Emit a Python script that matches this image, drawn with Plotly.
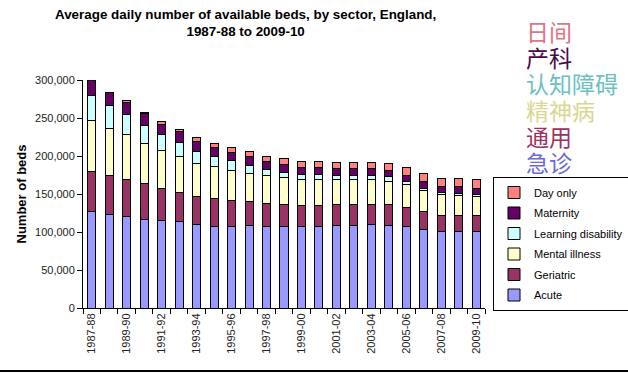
import plotly.graph_objects as go

categories = ["1987-88", "1988-89", "1989-90", "1990-91", "1991-92", "1992-93", "1993-94",
              "1994-95", "1995-96", "1996-97", "1997-98", "1998-99", "1999-00", "2000-01",
              "2001-02", "2002-03", "2003-04", "2004-05", "2005-06", "2006-07", "2007-08",
              "2008-09", "2009-10"]

acute = [126700, 123300, 120600, 116700, 115300, 113200, 110100, 107500, 107500, 108800,
         107500, 107500, 107500, 107500, 108800, 108800, 110100, 108800, 107500, 103500,
         100900, 100900, 100900]
geriatric = [52700, 51700, 48700, 46500, 41300, 39000, 36800, 36800, 34200, 31500,
             30200, 28900, 27600, 27600, 27600, 27600, 26300, 27600, 25000, 23700,
             21000, 21000, 21000]
mental_illness = [67600, 61400, 59200, 53500, 50900, 47800, 43400, 42100, 39400, 36900,
                  36900, 35500, 34200, 34200, 32900, 32900, 32900, 30300, 30200, 27600,
                  26800, 26300, 25000]
learning_disability = [32000, 29600, 26300, 23600, 21000, 18000, 15400, 12700, 12800, 10500,
                       7400, 6600, 6600, 6600, 4800, 4800, 4800, 5700, 4000, 2700,
                       3500, 2700, 2700]
maternity = [19700, 17800, 15200, 15700, 13200, 13600, 14000, 12700, 11000, 11000,
             11000, 10500, 9600, 9600, 10100, 10100, 10100, 8700, 8300, 8700,
             8300, 9600, 8300]
day_only = [0, 0, 2400, 1500, 3900, 3900, 4000, 4900, 6900, 6600,
            7000, 7900, 7900, 7900, 7500, 7500, 7500, 8400, 10100, 11000,
            10100, 10100, 11400]

series = [
    ("Acute", acute, "#9999FF"),
    ("Geriatric", geriatric, "#993366"),
    ("Mental illness", mental_illness, "#FFFFCC"),
    ("Learning disability", learning_disability, "#CCFFFF"),
    ("Maternity", maternity, "#660066"),
    ("Day only", day_only, "#FF8080"),
]

cn_labels = ["日间", "产科", "认知障碍", "精神病", "通用", "急诊"]
cn_colors = ["#E07585", "#4A0A4A", "#6CC0C0", "#D8D890", "#A0305E", "#6A6AD8"]

title_text = "<b>Average daily number of available beds, by sector, England,<br>1987-88 to 2009-10</b>"

x_idx = list(range(len(categories)))

L, R, T, B = 83, 143, 80, 65
W, H = 628, 373
PW, PH = W - L - R, H - T - B


def px(xp):
    return (xp - L) / PW


def py(yp):
    return (H - B - yp) / PH


fig = go.Figure()
n = len(series)
for i, (name, vals, col) in enumerate(series):
    fig.add_trace(go.Bar(
        x=x_idx, y=vals, name=name, legendrank=n - i, legendgroup=name,
        marker=dict(color=col, line=dict(color="#000000", width=1)),
    ))

fig.update_layout(
    width=W, height=H,
    margin=dict(l=L, r=R, t=T, b=B, autoexpand=False),
    barmode="stack", bargap=0.54,
    paper_bgcolor="white", plot_bgcolor="white",
    font=dict(family="Arial, Liberation Sans, sans-serif", size=11, color="#000000"),
    showlegend=True,
    legend=dict(
        traceorder="grouped", tracegroupgap=1.5,
        x=px(493), xanchor="left",
        y=py(177), yanchor="top",
        bordercolor="#000000", borderwidth=1, bgcolor="white",
        font=dict(size=11, color="#000000"),
        itemwidth=30,
    ),
)

fig.add_annotation(
    text=title_text, xref="paper", yref="paper",
    x=px(245), xanchor="center", y=py(5), yanchor="top",
    showarrow=False, align="center",
    font=dict(size=13.4, color="#000000"),
)

fig.update_xaxes(
    range=[-0.5, len(categories) - 0.5], automargin=False,
    tickmode="array", tickvals=x_idx[::2], ticktext=categories[::2],
    tickangle=-90, ticks="", showgrid=False, zeroline=False,
    showline=True, linecolor="#000000", linewidth=1,
    tickfont=dict(size=11, color="#222222"),
    minor=dict(tickmode="array", tickvals=[i - 0.5 for i in range(len(categories) + 1)],
               ticks="outside", ticklen=5, tickcolor="#000000", showgrid=False),
)
fig.update_yaxes(
    range=[0, 300000], automargin=False,
    tickmode="linear", dtick=50000, tickformat=",",
    ticks="outside", ticklen=5, tickcolor="#000000",
    showgrid=False, zeroline=False,
    showline=True, linecolor="#000000", linewidth=1,
    tickfont=dict(size=11, color="#222222"),
    title=dict(text="<b>Number of beds</b>", font=dict(size=13, color="#000000"), standoff=5),
)

cn_y = [32, 58, 84, 111, 137, 163]
for txt, col, yy in zip(cn_labels, cn_colors, cn_y):
    fig.add_annotation(
        text=txt, xref="paper", yref="paper",
        x=px(524), xanchor="left",
        y=py(yy - 1), yanchor="middle",
        showarrow=False,
        font=dict(family="Noto Sans CJK SC", size=23, color=col),
    )

fig.add_shape(type="line", xref="paper", yref="paper",
              x0=px(0), x1=px(W),
              y0=py(371), y1=py(371),
              line=dict(color="#000000", width=2))

fig.write_html("out.html", config={"displayModeBar": False},
               post_script="document.body.style.margin='0px';")
